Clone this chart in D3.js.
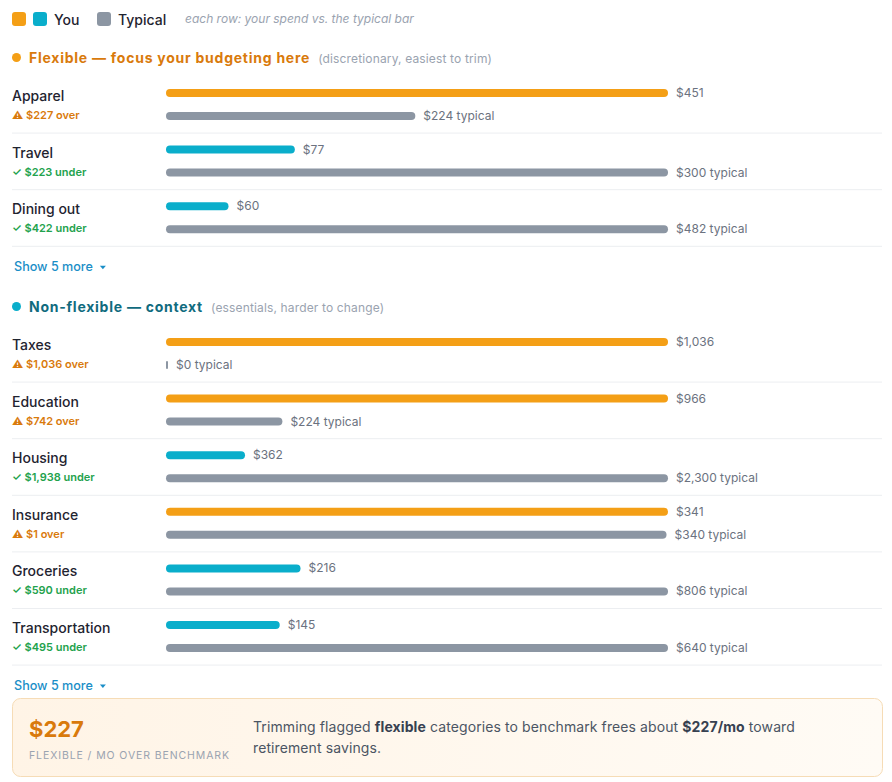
<!DOCTYPE html>
<html><head><meta charset="utf-8">
<script src="https://cdn.jsdelivr.net/npm/d3@7"></script>
<style>
html,body{margin:0;padding:0;background:#fff;}
svg{display:block;font-family:Inter,"Liberation Sans",Arial,sans-serif;}
</style></head>
<body>
<svg id="chart" width="892" height="782"></svg>
<script>
// ---- data ----
const flexCategories = ["Apparel", "Travel", "Dining out"];
const flexYou = [451, 77, 60];
const flexTypical = [224, 300, 482];

const nonFlexCategories = ["Taxes", "Education", "Housing", "Insurance", "Groceries", "Transportation"];
const nonFlexYou = [1036, 966, 362, 341, 216, 145];
const nonFlexTypical = [0, 224, 2300, 340, 806, 640];

const legendLabels = ["You", "Typical"];
const sectionTitles = ["Flexible — focus your budgeting here", "Non-flexible — context"];
const sectionNotes = ["(discretionary, easiest to trim)", "(essentials, harder to change)"];
const hiddenCounts = [5, 5];
const summaryValue = 227;

// ---- styling ----
const C = {
  orange: "#f49f16", teal: "#0aaecb", gray: "#8c96a3",
  orangeText: "#d97a0c", green: "#23a24d", tealText: "#106b7e",
  dark: "#1f2430", muted: "#6b7280", light: "#9aa3b0", link: "#1a8ec7",
  sep: "#eceef1"
};
const svg = d3.select("#chart");
const fmt = d3.format(",");
const barX0 = 166, barW = 502, rowH = 56.6;

// legend
const lg = svg.append("g");
lg.append("rect").attr("x", 12).attr("y", 12).attr("width", 14).attr("height", 14).attr("rx", 3).attr("fill", C.orange);
lg.append("rect").attr("x", 33).attr("y", 12).attr("width", 14).attr("height", 14).attr("rx", 3).attr("fill", C.teal);
lg.append("text").attr("x", 54).attr("y", 24.5).attr("font-size", 14).attr("font-weight", 500).attr("fill", C.dark).text(legendLabels[0]);
lg.append("rect").attr("x", 97).attr("y", 12).attr("width", 14).attr("height", 14).attr("rx", 3).attr("fill", C.gray);
lg.append("text").attr("x", 118).attr("y", 24.5).attr("font-size", 14).attr("font-weight", 500).attr("fill", C.dark).text(legendLabels[1]);
lg.append("text").attr("x", 185).attr("y", 23).attr("font-size", 12).attr("font-style", "italic").attr("fill", C.light)
  .text("each row: your spend vs. the typical bar");

function section(idx, top, cats, you, typ, dotColor, titleColor) {
  const g = svg.append("g");
  g.append("circle").attr("cx", 16.5).attr("cy", top).attr("r", 4.5).attr("fill", dotColor);
  const t = g.append("text").attr("x", 29).attr("y", top + 5).attr("font-size", 14);
  t.append("tspan").attr("font-weight", 700).attr("letter-spacing", 0.75).attr("fill", titleColor).text(sectionTitles[idx]);
  t.append("tspan").attr("dx", 8).attr("font-size", 12).attr("letter-spacing", 0.15).attr("fill", C.light).text(sectionNotes[idx]);

  const rowsTop = top + 18.5;
  cats.forEach((c, i) => {
    const y0 = rowsTop + i * rowH;
    const x = d3.scaleLinear().domain([0, Math.max(you[i], typ[i])]).range([0, barW]);
    const diff = you[i] - typ[i];
    const over = diff > 0;
    const rg = g.append("g");
    rg.append("text").attr("x", 12).attr("y", y0 + 25).attr("font-size", 14).attr("font-weight", 500).attr("fill", C.dark).text(c);
    rg.append("text").attr("x", 12).attr("y", y0 + 43).attr("font-size", 11).attr("font-weight", 600)
      .attr("fill", over ? C.orangeText : C.green)
      .text((over ? "⚠\uFE0E $" : "✓ $") + fmt(Math.abs(diff)) + (over ? " over" : " under"));
    // you bar
    const yw = x(you[i]);
    rg.append("rect").attr("x", barX0).attr("y", y0 + 13).attr("width", yw).attr("height", 8).attr("rx", 4)
      .attr("fill", over ? C.orange : C.teal);
    rg.append("text").attr("x", barX0 + yw + 8).attr("y", y0 + 21).attr("font-size", 12).attr("fill", C.muted).text("$" + fmt(you[i]));
    // typical bar
    const tw = Math.max(x(typ[i]), 2);
    rg.append("rect").attr("x", barX0).attr("y", y0 + 36).attr("width", tw).attr("height", 8).attr("rx", tw > 8 ? 4 : 1)
      .attr("fill", C.gray);
    rg.append("text").attr("x", barX0 + tw + 8).attr("y", y0 + 44).attr("font-size", 12).attr("fill", C.muted).text("$" + fmt(typ[i]) + " typical");
    rg.append("line").attr("x1", 12).attr("x2", 882).attr("y1", y0 + rowH + 0.5).attr("y2", y0 + rowH + 0.5)
      .attr("stroke", C.sep).attr("stroke-width", 1);
  });
  const sy = rowsTop + cats.length * rowH + 25;
  const st = g.append("text").attr("x", 14).attr("y", sy).attr("font-size", 12.6).attr("font-weight", 500).attr("fill", C.link).text("Show " + hiddenCounts[idx] + " more");
  const bw = st.node().getComputedTextLength();
  g.append("path").attr("d", `M${14 + bw + 7},${sy - 5} l6,0 l-3,3.5 z`).attr("fill", C.link);
}

section(0, 57.5, flexCategories, flexYou, flexTypical, C.orange, C.orangeText);
section(1, 306.5, nonFlexCategories, nonFlexYou, nonFlexTypical, C.teal, C.tealText);

// summary box
const defs = svg.append("defs");
const grad = defs.append("linearGradient").attr("id", "sumgrad").attr("x1", 0).attr("x2", 1).attr("y1", 0).attr("y2", 0);
grad.append("stop").attr("offset", 0).attr("stop-color", "#fff4e6");
grad.append("stop").attr("offset", 1).attr("stop-color", "#fffbf5");
svg.append("rect").attr("x", 12.5).attr("y", 698.5).attr("width", 870).attr("height", 78).attr("rx", 8)
  .attr("fill", "url(#sumgrad)").attr("stroke", "#f6dcb6");
svg.append("text").attr("x", 29).attr("y", 737).attr("font-size", 22).attr("font-weight", 700).attr("fill", C.orangeText).text("$" + summaryValue);
svg.append("text").attr("x", 29).attr("y", 759).attr("font-size", 10.5).attr("letter-spacing", 0.9).attr("fill", C.light).text("FLEXIBLE / MO OVER BENCHMARK");
const s1 = svg.append("text").attr("x", 253).attr("y", 732).attr("font-size", 14).attr("letter-spacing", 0.1).attr("fill", "#4b5563");
s1.append("tspan").text("Trimming flagged ");
s1.append("tspan").attr("font-weight", 700).attr("fill", "#374151").text("flexible");
s1.append("tspan").text(" categories to benchmark frees about ");
s1.append("tspan").attr("font-weight", 700).attr("fill", "#374151").text("$" + summaryValue + "/mo");
s1.append("tspan").text(" toward");
svg.append("text").attr("x", 253).attr("y", 753).attr("font-size", 14).attr("letter-spacing", 0.1).attr("fill", "#4b5563").text("retirement savings.");
</script>
</body></html>
